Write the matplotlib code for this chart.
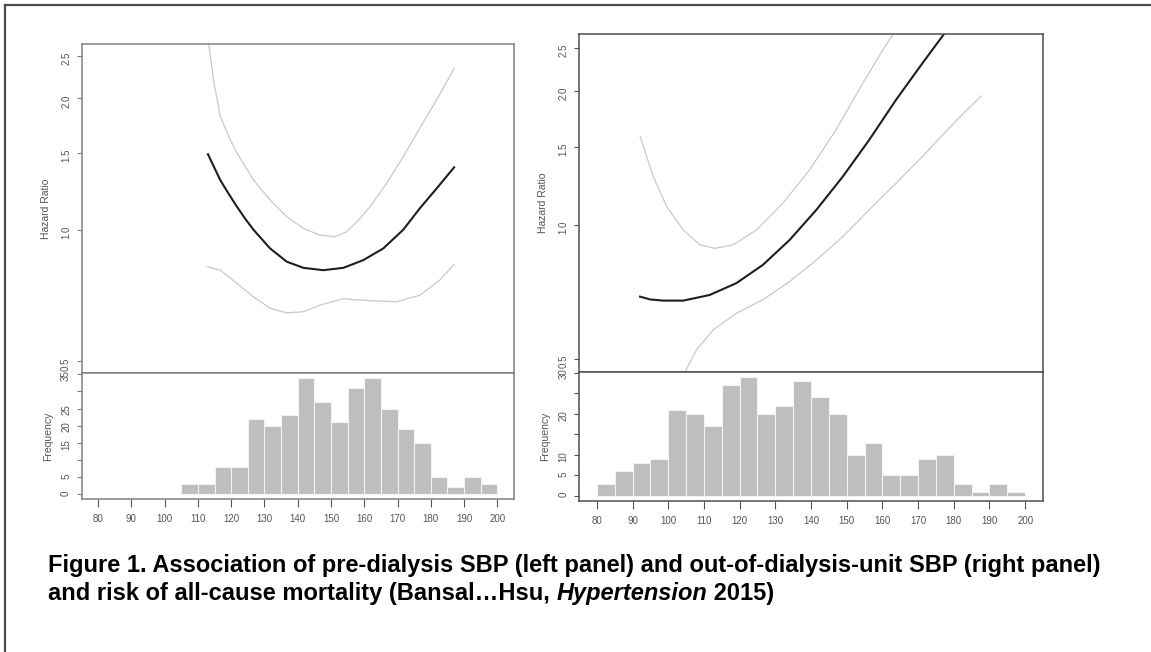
import matplotlib
matplotlib.use("Agg")
import matplotlib.pyplot as plt
from matplotlib.lines import Line2D
from matplotlib.ticker import FixedLocator, FixedFormatter, NullLocator

plt.rcParams['font.family'] = ['Liberation Sans', 'DejaVu Sans']

# ---- data ----
# left panel: pre-dialysis SBP
left_x_hr = [113, 116.7, 119.2, 121.7, 124.2, 126.7, 131.7, 136.7, 141.7, 147.7, 153.7, 159.7, 165.7, 171.7, 176.7, 182, 187]
left_hr = [1.49, 1.30, 1.21, 1.13, 1.06, 1.00, 0.906, 0.845, 0.818, 0.808, 0.818, 0.852, 0.906, 1.00, 1.12, 1.25, 1.39]
left_x_up = [113, 114.7, 116.7, 119.2, 121.7, 126.7, 131.7, 136.7, 141.7, 146.7, 151.2, 154.7, 158.2, 161.7, 166.7, 171.7, 176.7, 182, 187]
left_up = [2.75, 2.20, 1.82, 1.64, 1.50, 1.30, 1.17, 1.071, 1.007, 0.972, 0.964, 0.99, 1.05, 1.129, 1.277, 1.47, 1.71, 2.0, 2.34]
left_x_lo = [112.9, 116.7, 121.7, 126.7, 131.7, 136.7, 141.7, 146.7, 153.7, 161.7, 169.7, 176.7, 182.7, 187]
left_lo = [0.823, 0.808, 0.754, 0.702, 0.661, 0.645, 0.649, 0.672, 0.695, 0.688, 0.684, 0.708, 0.767, 0.833]
left_bins = [105, 110, 115, 120, 125, 130, 135, 140, 145, 150, 155, 160, 165, 170, 175, 180, 185, 190, 195]
left_counts = [3, 3, 8, 8, 22, 20, 23, 34, 27, 21, 31, 34, 25, 19, 15, 5, 2, 5, 3]

# right panel: out-of-dialysis-unit SBP
right_x_hr = [92.1, 95.0, 98.6, 104.2, 111.6, 119.1, 126.5, 134.0, 141.5, 148.9, 156.3, 163.8, 171.2, 177.5]
right_hr = [0.690, 0.680, 0.676, 0.676, 0.696, 0.740, 0.813, 0.925, 1.081, 1.284, 1.552, 1.909, 2.307, 2.70]
right_x_up = [92.1, 95.8, 99.6, 104.2, 108.9, 113.0, 118.2, 124.7, 132.1, 139.6, 147.0, 154.5, 160.1, 163.5]
right_up = [1.584, 1.284, 1.099, 0.974, 0.902, 0.886, 0.902, 0.974, 1.119, 1.329, 1.635, 2.08, 2.47, 2.72]
right_x_lo = [104.3, 107.9, 112.6, 119.1, 126.5, 134.0, 141.5, 148.9, 156.3, 163.8, 171.2, 178.2, 183, 187.7]
right_lo = [0.46, 0.524, 0.581, 0.633, 0.679, 0.746, 0.834, 0.941, 1.081, 1.24, 1.424, 1.635, 1.79, 1.948]
right_bins = [80, 85, 90, 95, 100, 105, 110, 115, 120, 125, 130, 135, 140, 145, 150, 155, 160, 165, 170, 175, 180, 185, 190, 195]
right_counts = [3, 6, 8, 9, 21, 20, 17, 27, 29, 20, 22, 28, 24, 20, 10, 13, 5, 5, 9, 10, 3, 1, 3, 1]

hr_ticks = [0.5, 1.0, 1.5, 2.0, 2.5]
hr_labels = ['0.5', '1.0', '1.5', '2.0', '2.5']
sbp_ticks = [80, 90, 100, 110, 120, 130, 140, 150, 160, 170, 180, 190, 200]
sbp_labels = ['80', '90', '100', '110', '120', '130', '140', '150', '160', '170', '180', '190', '200']
left_freq_ticks = [0, 5, 10, 15, 20, 25, 30, 35]
left_freq_labels = ['0', '5', '', '15', '20', '25', '', '35']
right_freq_ticks = [0, 5, 10, 15, 20, 25, 30]
right_freq_labels = ['0', '5', '10', '', '20', '', '30']

caption1 = "Figure 1. Association of pre-dialysis SBP (left panel) and out-of-dialysis-unit SBP (right panel)"
caption2a = "and risk of all-cause mortality (Bansal\u2026Hsu, "
caption2b = "Hypertension"
caption2c = " 2015)"

W, H = 1151, 652
fig = plt.figure(figsize=(W / 100, H / 100), dpi=100)


def add_ax(x0, x1, ytop, ybot):
    return fig.add_axes([x0 / W, 1 - ybot / H, (x1 - x0) / W, (ybot - ytop) / H])


def draw_panel(x0, x1, ytop, ysep, ybot, hr_lim, freq_lim, xs, hrs, xu, ups, xl, los,
               bins, counts, freq_ticks, freq_labels, frame_col, lab_x):
    ax = add_ax(x0, x1, ytop, ysep)
    axh = add_ax(x0, x1, ysep, ybot)

    # upper spline plot
    ax.plot(xu, ups, color='#c9c9c9', lw=0.9)
    ax.plot(xl, los, color='#c9c9c9', lw=0.9)
    ax.plot(xs, hrs, color='#1e1e1e', lw=1.5)
    ax.set_yscale('log')
    ax.set_xlim(75, 205)
    ax.set_ylim(*hr_lim)
    ax.yaxis.set_major_locator(FixedLocator(hr_ticks))
    ax.yaxis.set_major_formatter(FixedFormatter(hr_labels))
    ax.yaxis.set_minor_locator(NullLocator())
    ax.tick_params(axis='x', bottom=False, labelbottom=False)
    ax.tick_params(axis='y', direction='out', length=3.5, width=0.8, color=frame_col,
                   labelsize=7, labelcolor='#555555', labelrotation=90, pad=4)
    ax.set_ylabel('Hazard Ratio', fontsize=7.5, color='#555555')
    ax.yaxis.set_label_coords(lab_x, 0.5)

    # histogram
    axh.bar(bins, counts, width=5, align='edge', color='#bebebe', edgecolor='#f2f2f2', linewidth=0.8)
    axh.set_xlim(75, 205)
    axh.set_ylim(*freq_lim)
    axh.set_xticks(sbp_ticks)
    axh.set_xticklabels(sbp_labels)
    axh.set_yticks(freq_ticks)
    axh.set_yticklabels(freq_labels)
    axh.tick_params(axis='x', direction='out', length=5.5, width=0.8, color='#555555',
                    labelsize=7, labelcolor='#555555', pad=5)
    axh.tick_params(axis='y', direction='out', length=3.5, width=0.8, color=frame_col,
                    labelsize=7, labelcolor='#555555', labelrotation=90, pad=4)
    axh.set_ylabel('Frequency', fontsize=7.5, color='#555555')
    axh.yaxis.set_label_coords(lab_x + 0.004, 0.5)

    for a in (ax, axh):
        for s in a.spines.values():
            s.set_color(frame_col)
            s.set_linewidth(1.1)
    return ax, axh


draw_panel(81.5, 514, 44.3, 373.3, 499.3, (0.469, 2.66), (-1.46, 35.28),
           left_x_hr, left_hr, left_x_up, left_up, left_x_lo, left_lo,
           left_bins, left_counts, left_freq_ticks, left_freq_labels, '#808080', -0.070)
draw_panel(579, 1043, 34, 371.7, 501, (0.468, 2.685), (-1.22, 30.24),
           right_x_hr, right_hr, right_x_up, right_up, right_x_lo, right_lo,
           right_bins, right_counts, right_freq_ticks, right_freq_labels, '#505050', -0.066)

# outer border (top and left only, the rest is cropped)
fig.add_artist(Line2D([5 / W, 1], [1 - 5 / H, 1 - 5 / H], color='#4a4a4a', lw=1.6))
fig.add_artist(Line2D([5 / W, 5 / W], [0, 1 - 5 / H], color='#4a4a4a', lw=1.6))

# caption
cap_size = 17
fig.text(48 / W, 1 - 572 / H, caption1, fontsize=cap_size, fontweight='bold', va='baseline')
t1 = fig.text(48 / W, 1 - 600 / H, caption2a, fontsize=cap_size, fontweight='bold', va='baseline')
fig.canvas.draw()
r = fig.canvas.get_renderer()
x_next = t1.get_window_extent(r).x1
t2 = fig.text(x_next / W, 1 - 600 / H, caption2b, fontsize=cap_size, fontweight='bold',
              fontstyle='italic', va='baseline')
x_next = t2.get_window_extent(r).x1
fig.text(x_next / W, 1 - 600 / H, caption2c, fontsize=cap_size, fontweight='bold', va='baseline')

fig.savefig('out.png', dpi=100, facecolor='white')
